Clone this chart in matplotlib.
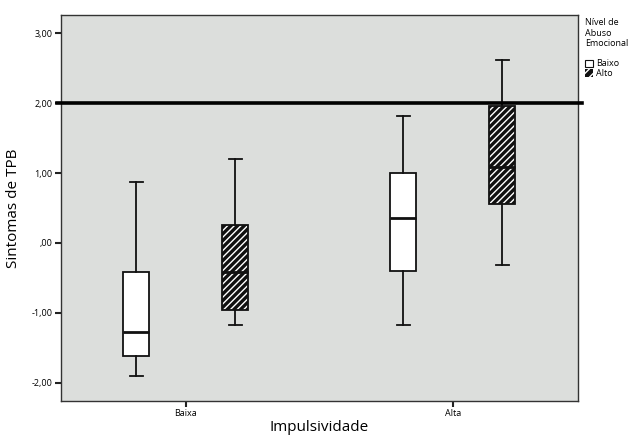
import matplotlib.pyplot as plt
from matplotlib.patches import Patch, Rectangle

plt.rcParams['font.family'] = ['Open Sans', 'DejaVu Sans']
plt.rcParams['hatch.linewidth'] = 1.0

# group labels on the x axis
grupos = ['Baixa', 'Alta']
niveis = ['Baixo', 'Alto']

# box statistics (Baixo / Alto abuse level)
baixo_whishi = [0.87, 1.81]
baixo_q3 = [-0.42, 1.00]
baixo_med = [-1.27, 0.36]
baixo_q1 = [-1.62, -0.40]
baixo_whislo = [-1.90, -1.18]

alto_whishi = [1.20, 2.61]
alto_q3 = [0.25, 1.96]
alto_med = [-0.42, 1.08]
alto_q1 = [-0.96, 0.55]
alto_whislo = [-1.18, -0.32]

yticks = [-2, -1, 0, 1, 2, 3]
ytick_labels = ['-2,00', '-1,00', ',00', '1,00', '2,00', '3,00']
limiar = 2.0


def stats(whislo, q1, med, q3, whishi):
    return [dict(whislo=a, q1=b, med=c, q3=d, whishi=e, fliers=[])
            for a, b, c, d, e in zip(whislo, q1, med, q3, whishi)]


fig = plt.figure(figsize=(6.3, 4.37), dpi=100)
ax = fig.add_axes([0.0968, 0.0824, 0.8207, 0.8833])
ax.set_facecolor('#dcdedc')

off = 0.185
w = 0.097
lw = 1.3
pos = [0, 1]

line = dict(color='#111111', linewidth=lw)
ax.bxp(stats(baixo_whislo, baixo_q1, baixo_med, baixo_q3, baixo_whishi),
       positions=[p - off for p in pos], widths=w, patch_artist=True,
       boxprops=dict(facecolor='white', edgecolor='#111111', linewidth=lw),
       medianprops=dict(color='#111111', linewidth=2.0),
       whiskerprops=line, capprops=line, manage_ticks=False)

bp = ax.bxp(stats(alto_whislo, alto_q1, alto_med, alto_q3, alto_whishi),
            positions=[p + off for p in pos], widths=w, patch_artist=True,
            boxprops=dict(facecolor='#111111', edgecolor='white',
                          hatch='/////', linewidth=0),
            medianprops=dict(color='#111111', linewidth=2.0),
            whiskerprops=line, capprops=line, manage_ticks=False)
for b in bp['boxes']:
    ext = b.get_path().get_extents()
    ax.add_patch(Rectangle((ext.x0, ext.y0), ext.width, ext.height,
                           fill=False, edgecolor='#111111', linewidth=lw,
                           zorder=b.get_zorder() + 0.1))

# reference line at 2,00
ax.axhline(limiar, xmin=-0.008, xmax=1.008, color='black', linewidth=2.6,
           clip_on=False, zorder=5)

ax.set_xlim(-0.467, 1.469)
ax.set_ylim(-2.26, 3.26)
ax.set_xticks(pos)
ax.set_xticklabels(grupos, fontsize=6.5)
ax.set_yticks(yticks)
ax.set_yticklabels(ytick_labels, fontsize=6.5)
ax.tick_params(axis='both', direction='out', length=4, width=1.5,
               color='#222222', pad=2)
for s in ax.spines.values():
    s.set_color('#333333')
    s.set_linewidth(1.0)

ax.set_ylabel('Sintomas de TPB', fontsize=11, labelpad=8)
ax.set_xlabel('Impulsividade', fontsize=11, labelpad=1)

handles = [Patch(facecolor='white', edgecolor='#111111', linewidth=0.8),
           Patch(facecolor='#111111', edgecolor='white', hatch='////',
                 linewidth=0)]
leg = fig.legend(handles, niveis, title='Nível de\nAbuso\nEmocional\n',
                 loc='upper left', bbox_to_anchor=(0.928, 0.958),
                 frameon=False, fontsize=6.5, title_fontsize=6.5,
                 handlelength=0.9, handleheight=0.9, handletextpad=0.4,
                 labelspacing=0.1, borderpad=0, borderaxespad=0,
                 alignment='left')

fig.savefig('out.png', dpi=100)
